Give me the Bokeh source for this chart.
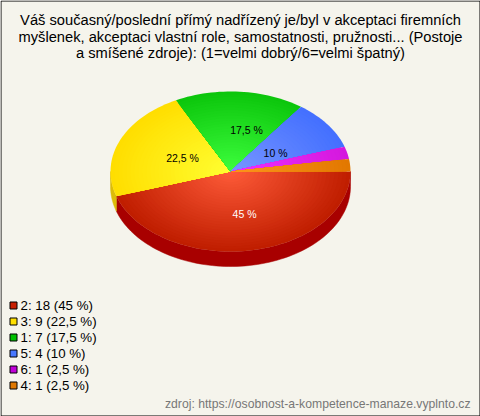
from bokeh.plotting import figure
from bokeh.models import ColumnDataSource, Range1d
from bokeh.embed import file_html
from bokeh.resources import INLINE
from bokeh.core.properties import value
import numpy as np

title_lines = ["Váš současný/poslední přímý nadřízený je/byl v akceptaci firemních",
               "myšlenek, akceptaci vlastní role, samostatnosti, pružnosti... (Postoje",
               "a smíšené zdroje): (1=velmi dobrý/6=velmi špatný)"]
categories = ["2", "3", "1", "5", "6", "4"]
counts = [18, 9, 7, 4, 1, 1]
percent_labels = ["45 %", "22,5 %", "17,5 %", "10 %", "2,5 %", "2,5 %"]
legend_colors = ["#c81e00", "#ffe000", "#00c000", "#4878ff", "#c000d8", "#e07800"]
center_colors = [(255, 92, 58), (255, 255, 50), (62, 255, 62), (120, 150, 255), (240, 50, 255), (255, 150, 30)]
rim_colors = [(192, 30, 0), (255, 222, 0), (12, 198, 12), (68, 112, 255), (212, 24, 222), (226, 120, 0)]
wall_colors = ["#a80000", "#dcbc08", "#009000", "#3050c0", "#9000a0", "#b06000"]
label_colors = ["#ffffff", "#000000", "#000000", "#000000"]
source_text = "zdroj: https://osobnost-a-kompetence-manaze.vyplnto.cz"

# layout: label shift from the 0.45-radius point of each slice, in pixels
label_dx = [5.6, 1.9, 11.8, 1.4]
label_dy = [7.4, 0.0, -5.5, 2.8]

BG = "#f5f4ec"
CX, CY, RX, RY, DEPTH = 230, 171, 120, 80, 15
RINGS = 30

p = figure(width=480, height=416, output_backend="svg", toolbar_location=None,
           x_range=Range1d(0, 480), y_range=Range1d(416, 0), min_border=0,
           background_fill_color=BG, border_fill_color=BG, outline_line_color=None)
p.xaxis.visible = False
p.yaxis.visible = False
p.grid.visible = False

total = sum(counts)
edges = np.radians(np.concatenate([[0], np.cumsum(counts)]) / total * 360)

def arc(a0, a1, n=90):
    return np.linspace(a0, a1, max(3, int(n * (a1 - a0) / np.pi) + 2))

# side wall (visible front half only)
wx, wy, wc = [], [], []
for a0, a1, c in zip(edges[:-1], edges[1:], wall_colors):
    lo, hi = max(a0, 0), min(a1, np.pi)
    if hi <= lo:
        continue
    t = arc(lo, hi)
    xs = CX + RX * np.cos(t)
    ys = CY + RY * np.sin(t)
    wx.append(np.concatenate([xs, xs[::-1]]))
    wy.append(np.concatenate([ys, ys[::-1] + DEPTH]))
    wc.append(c)
p.patches("x", "y", fill_color="c", line_color="c", line_width=0.5,
          source=ColumnDataSource(dict(x=wx, y=wy, c=wc)))

# top face: nested sectors emulate the radial gradient
tx, ty, tc = [], [], []
for i in range(len(counts)):
    t = arc(edges[i], edges[i + 1])
    for k in range(RINGS):
        f = 1 - k / RINGS
        c = np.array(rim_colors[i]) * f + np.array(center_colors[i]) * (1 - f)
        tx.append(np.concatenate([[CX], CX + f * RX * np.cos(t)]))
        ty.append(np.concatenate([[CY], CY + f * RY * np.sin(t)]))
        tc.append("#%02x%02x%02x" % tuple(int(round(v)) for v in c))
p.patches("x", "y", fill_color="c", line_color=None,
          source=ColumnDataSource(dict(x=tx, y=ty, c=tc)))

# slice labels
lx, ly, lt, lc = [], [], [], []
for i in range(len(label_colors)):
    mid = (edges[i] + edges[i + 1]) / 2
    lx.append(CX + 0.45 * RX * np.cos(mid) + label_dx[i])
    ly.append(CY + 0.45 * RY * np.sin(mid) + label_dy[i])
    lt.append(percent_labels[i])
    lc.append(label_colors[i])
p.text("x", "y", text="t", text_color="c", text_font=value("Liberation Sans"), text_font_size="10.5px",
       text_align="center", text_baseline="middle",
       source=ColumnDataSource(dict(x=lx, y=ly, t=lt, c=lc)))

# title
p.text([240] * 3, [19, 36, 52], text=title_lines, text_font=value("Liberation Sans"),
       text_font_size="14.7px", text_color="#000000", text_align="center", text_baseline="middle")

# legend
rows = [305 + 16 * i for i in range(len(categories))]
p.rect([13] * len(rows), rows, width=7, height=7, fill_color=legend_colors, line_color="#000000", line_width=1)
p.text([20] * len(rows), rows,
       text=["%s: %d (%s)" % (a, b, c) for a, b, c in zip(categories, counts, percent_labels)],
       text_font=value("Liberation Sans"), text_font_size="13.3px", text_color="#000000",
       text_align="left", text_baseline="middle")

# source
p.text([470], [403], text=[source_text], text_font=value("Liberation Sans"), text_font_size="12.2px",
       text_color="#777777", text_align="right", text_baseline="middle")

# frame
p.line([0.5, 479.5, 479.5, 0.5, 0.5], [0.5, 0.5, 415.5, 415.5, 0.5], line_color="#000000", line_width=1)

open("out.html", "w").write(file_html(p, INLINE))
